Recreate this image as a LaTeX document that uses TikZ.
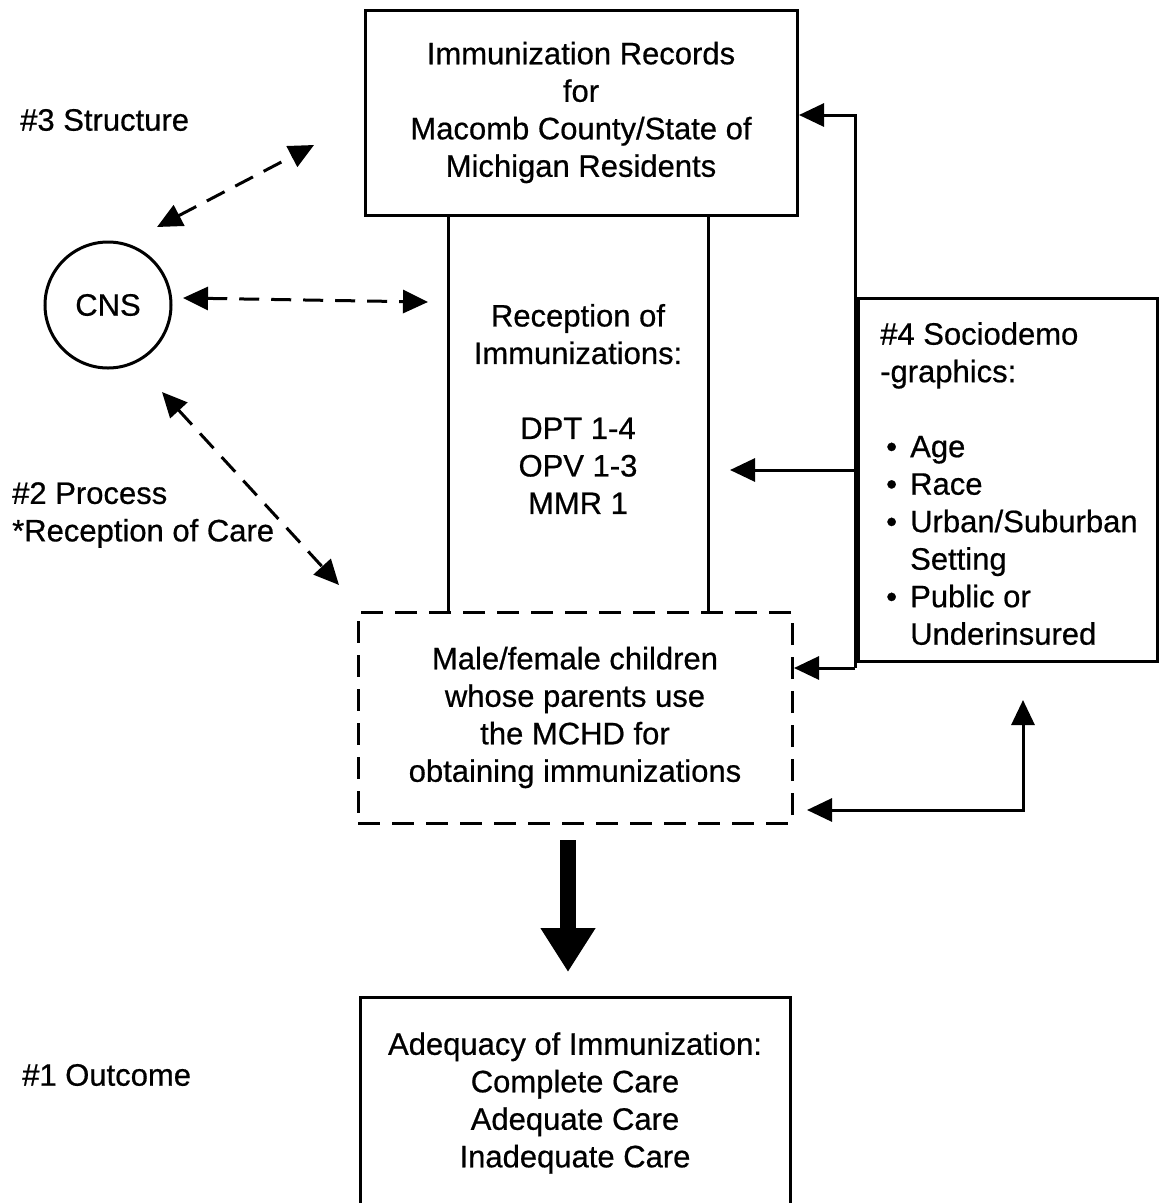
\documentclass[tikz,border=0pt]{standalone}
\usepackage{fontspec}
\setmainfont{Liberation Sans}[FakeBold=0.6]
\usetikzlibrary{arrows.meta}
\begin{document}
\begin{tikzpicture}[x=1pt,y=-1pt,
  every node/.style={font=\fontsize{31}{37.5}\selectfont, inner sep=0pt},
  box/.style={draw, line width=3pt, rectangle, align=center},
  dbox/.style={box, dash pattern=on 22pt off 12pt},
  lbl/.style={anchor=west, align=left},
  tip/.style={-{Triangle[length=25pt,width=23pt]}},
  dtip/.style={{Triangle[length=25pt,width=23pt]}-{Triangle[length=25pt,width=23pt]}, line width=3pt, dash pattern=on 20pt off 12pt},
  conn/.style={line width=3pt}
]
\useasboundingbox (0,0) rectangle (1159,1203);
\begin{scope}
\clip (0,0) rectangle (1159,1203);

% boxes
\node[box, minimum width=432pt, minimum height=205pt] (topbox) at (581,112.5)
  {Immunization Records\\for\\Macomb County/State of\\Michigan Residents};
\node[align=center] (recep) at (578,409)
  {Reception of\\Immunizations:\\[37.5pt]DPT 1-4\\OPV 1-3\\MMR 1};
\coordinate (cl1) at (448,215);
\coordinate (cl2) at (448,612);
\coordinate (cr1) at (708,215);
\coordinate (cr2) at (708,612);
\draw[conn] (cl1) -- (cl2);
\draw[conn] (cr1) -- (cr2);

\node[dbox, minimum width=434pt, minimum height=211pt] (kids) at (575,717.5)
  {Male/female children\\whose parents use\\the MCHD for\\obtaining immunizations};

\node[box, minimum width=430pt, minimum height=212pt] (outcome) at (575,1103)
  {Adequacy of Immunization:\\Complete Care\\Adequate Care\\Inadequate Care};

\node[box, minimum width=299pt, minimum height=363pt] (socio) at (1007.5,479.5) {};
\node[lbl, anchor=north west] (sociotext) at (880,322)
  {\#4 Sociodemo\\-graphics:\\[37.5pt]
   \makebox[30pt][l]{\hspace{6pt}•}Age\\
   \makebox[30pt][l]{\hspace{6pt}•}Race\\
   \makebox[30pt][l]{\hspace{6pt}•}Urban/Suburban\\
   \makebox[30pt][l]{}Setting\\
   \makebox[30pt][l]{\hspace{6pt}•}Public or\\
   \makebox[30pt][l]{}Underinsured};

\node[draw, circle, line width=3pt, minimum size=126pt] (cns) at (108,305) {CNS};

% labels
\node[lbl] (l3) at (20,120) {\#3 Structure};
\node[lbl] (l2) at (12,515) {\#2 Process\\*Reception of Care};
\node[lbl] (l1) at (22,1075) {\#1 Outcome};

% dashed double arrows
\coordinate (d1a) at (157,227);
\coordinate (d1b) at (314,145);
\coordinate (d2a) at (183,298);
\coordinate (d2b) at (428,302);
\coordinate (d3a) at (162,392);
\coordinate (d3b) at (339,585);
\draw[dtip] (d1a) -- (d1b);
\draw[dtip] (d2a) -- (d2b);
\draw[dtip] (d3a) -- (d3b);

% feedback connectors
\coordinate (fj) at (855,668);
\coordinate (ft) at (855,115);
\coordinate (ftend) at (799,115);
\coordinate (fk) at (794,668);
\coordinate (fc) at (855,470);
\coordinate (fcend) at (730,470);
\draw[conn, tip] (fj) -- (ft) -- (ftend);
\draw[conn, tip] (fj) -- (fk);
\draw[conn, tip] (fc) -- (fcend);

\coordinate (bl) at (807,810);
\coordinate (bc) at (1023,810);
\coordinate (bu) at (1023,700);
\draw[conn, {Triangle[length=25pt,width=23pt]}-{Triangle[length=25pt,width=23pt]}] (bl) -- (bc) -- (bu);

% thick arrow
\coordinate (ta) at (568,840);
\coordinate (tb) at (568,972);
\draw[line width=16pt, -{Triangle[length=44pt,width=52pt]}] (ta) -- (tb);
\end{scope}
\end{tikzpicture}
\end{document}
